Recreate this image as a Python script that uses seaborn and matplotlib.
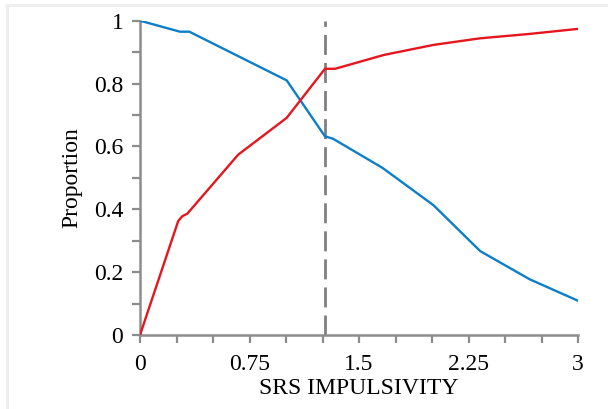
import matplotlib
matplotlib.use("Agg")
import matplotlib.pyplot as plt
from matplotlib.lines import Line2D
import seaborn as sns
import pandas as pd

# Data
blue_x = [0.0, 0.274, 0.338, 1.005, 1.267, 1.32, 1.66, 2.01, 2.33, 2.67, 3.0]
blue_y = [1.0, 0.965, 0.965, 0.81, 0.632, 0.625, 0.532, 0.413, 0.267, 0.177, 0.109]
red_x = [0.0, 0.262, 0.29, 0.324, 0.673, 1.005, 1.267, 1.336, 1.67, 2.01, 2.33, 2.67, 3.0]
red_y = [0.0, 0.363, 0.378, 0.386, 0.574, 0.691, 0.847, 0.847, 0.891, 0.923, 0.944, 0.958, 0.974]
cutoff = 1.267
x_ticks = [0, 0.75, 1.5, 2.25, 3]
x_ticklabels = ["0", "0.75", "1.5", "2.25", "3"]
y_ticks = [0, 0.2, 0.4, 0.6, 0.8, 1.0]
y_ticklabels = ["0", "0.2", "0.4", "0.6", "0.8", "1"]

sns.set_theme(style="white")
plt.rcParams['font.family'] = ['Liberation Serif', 'DejaVu Serif']

blue_color = "#0C7FC8"
red_color = "#E5161E"
axis_grey = "#8C8C8C"

df_b = pd.DataFrame({"x": blue_x, "y": blue_y})
df_r = pd.DataFrame({"x": red_x, "y": red_y})

fig = plt.figure(figsize=(6.08, 4.09), dpi=100)
ax = fig.add_axes([140/608, 1-335/409, (578-140)/608, (335-20.7)/409])

ax.axvline(cutoff, color="#808080", lw=2.0, dashes=(7.2, 2.9), zorder=1)
sns.lineplot(data=df_b, x="x", y="y", ax=ax, color=blue_color, lw=1.7,
             estimator=None, sort=False, zorder=3)
sns.lineplot(data=df_r, x="x", y="y", ax=ax, color=red_color, lw=1.7,
             estimator=None, sort=False, zorder=3)

ax.set_xlim(0, 3)
ax.set_ylim(0, 1)
ax.set_xticks(x_ticks)
ax.set_xticklabels(x_ticklabels)
ax.set_yticks(y_ticks)
ax.set_yticklabels(y_ticklabels)
ax.set_xticks([i * 0.25 for i in range(13)], minor=True)
ax.set_yticks([i * 0.1 for i in range(11)], minor=True)

for side in ["top", "right"]:
    ax.spines[side].set_visible(False)
for side in ["left", "bottom"]:
    ax.spines[side].set_color(axis_grey)
    ax.spines[side].set_linewidth(1.8)

ax.tick_params(axis="both", which="both", direction="out", color=axis_grey,
               width=1.6, labelsize=17, labelcolor="black")
ax.tick_params(axis="x", which="both", length=6, pad=8)
ax.tick_params(axis="y", which="both", length=6, pad=6)
ax.tick_params(which="major", bottom=True, left=True)
ax.tick_params(which="minor", bottom=True, left=True)

ax.set_xlabel("SRS IMPULSIVITY", fontsize=17, color="black", labelpad=2)
ax.set_ylabel("Proportion", fontsize=17, color="black", labelpad=8)

# Light frame lines at top and left of the picture
fig.add_artist(Line2D([6/608, 1], [1-4.5/409, 1-4.5/409], color="#EEEEEE", lw=2.2,
                      transform=fig.transFigure))
fig.add_artist(Line2D([6.5/608, 6.5/608], [0, 1-4.5/409], color="#EEEEEE", lw=2.2,
                      transform=fig.transFigure))

fig.savefig("out.png", dpi=100)
